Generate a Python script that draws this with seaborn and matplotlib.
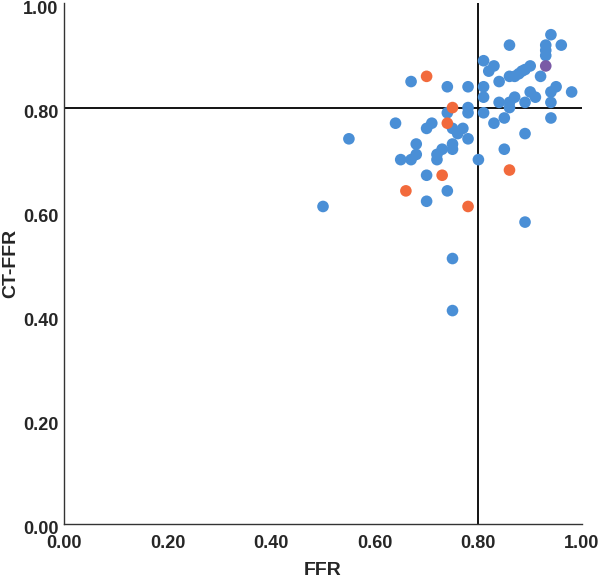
import matplotlib
matplotlib.use("Agg")
import matplotlib.pyplot as plt
import matplotlib.transforms as mtransforms
import seaborn as sns
import pandas as pd

# FFR / CT-FFR values
blue_ffr = [0.94, 0.86, 0.93, 0.93, 0.93, 0.96, 0.81, 0.83, 0.82, 0.90,
            0.86, 0.87, 0.878, 0.884, 0.89, 0.92, 0.84, 0.81, 0.90, 0.91,
            0.94, 0.95, 0.98, 0.81, 0.84, 0.86, 0.87, 0.89, 0.94, 0.86,
            0.85, 0.94, 0.81, 0.83, 0.89, 0.85, 0.80, 0.67, 0.74, 0.78,
            0.74, 0.78, 0.78, 0.64, 0.70, 0.71, 0.75, 0.76, 0.77, 0.78,
            0.55, 0.68, 0.68, 0.75, 0.75, 0.72, 0.73, 0.72, 0.65, 0.67,
            0.70, 0.74, 0.70, 0.50, 0.89, 0.75, 0.75]
blue_ctffr = [0.94, 0.92, 0.92, 0.91, 0.90, 0.92, 0.89, 0.88, 0.87, 0.88,
              0.86, 0.86, 0.865, 0.87, 0.873, 0.86, 0.85, 0.84, 0.83, 0.82,
              0.83, 0.84, 0.83, 0.82, 0.81, 0.81, 0.82, 0.81, 0.81, 0.80,
              0.78, 0.78, 0.79, 0.77, 0.75, 0.72, 0.70, 0.85, 0.84, 0.84,
              0.79, 0.80, 0.79, 0.77, 0.76, 0.77, 0.76, 0.75, 0.76, 0.74,
              0.74, 0.73, 0.71, 0.73, 0.72, 0.71, 0.72, 0.70, 0.70, 0.70,
              0.67, 0.64, 0.62, 0.61, 0.58, 0.51, 0.41]
orange_ffr = [0.70, 0.75, 0.74, 0.73, 0.86, 0.66, 0.78]
orange_ctffr = [0.86, 0.80, 0.77, 0.67, 0.68, 0.64, 0.61]
purple_ffr = [0.93]
purple_ctffr = [0.88]

ticks = [0.0, 0.2, 0.4, 0.6, 0.8, 1.0]
tick_labels = ["0.00", "0.20", "0.40", "0.60", "0.80", "1.00"]
cutoff = 0.80

df = pd.DataFrame({
    "FFR": blue_ffr + orange_ffr + purple_ffr,
    "CT-FFR": blue_ctffr + orange_ctffr + purple_ctffr,
    "group": ["a"] * len(blue_ffr) + ["b"] * len(orange_ffr) + ["c"] * len(purple_ffr),
})

sns.set_style("white")
plt.rcParams["font.family"] = ["Liberation Sans", "DejaVu Sans"]

fig = plt.figure(figsize=(6.0, 5.79), dpi=100)
ax = fig.add_axes([0.1067, 0.095, 0.8633, 0.899])

ax.axhline(cutoff, color="black", lw=1.3, zorder=1)
ax.axvline(cutoff, color="black", lw=1.3, zorder=1)

sns.scatterplot(data=df, x="FFR", y="CT-FFR", hue="group",
                palette={"a": "#4a8fd6", "b": "#f26a3c", "c": "#7a5aa6"},
                s=70, linewidth=0, legend=False, ax=ax, zorder=3)

ax.set_xlim(0, 1)
ax.set_ylim(0, 1)
ax.set_xticks(ticks)
ax.set_yticks(ticks)
ax.set_xticklabels(tick_labels, fontsize=13, fontweight="bold")
ax.set_yticklabels(tick_labels, fontsize=13, fontweight="bold")
ax.tick_params(axis="x", length=0, pad=8)
ax.tick_params(axis="y", length=0, pad=4)
offset = mtransforms.ScaledTranslation(0, -4 / 100, fig.dpi_scale_trans)
for lab in ax.get_yticklabels():
    lab.set_transform(lab.get_transform() + offset)
ax.set_xlabel("FFR", fontsize=14, fontweight="bold", labelpad=7)
ax.set_ylabel("CT-FFR", fontsize=14, fontweight="bold", labelpad=3)

for side in ["top", "right"]:
    ax.spines[side].set_visible(False)
for side in ["left", "bottom"]:
    ax.spines[side].set_color("#333333")
    ax.spines[side].set_linewidth(1.0)

fig.savefig("out.png", dpi=100)
